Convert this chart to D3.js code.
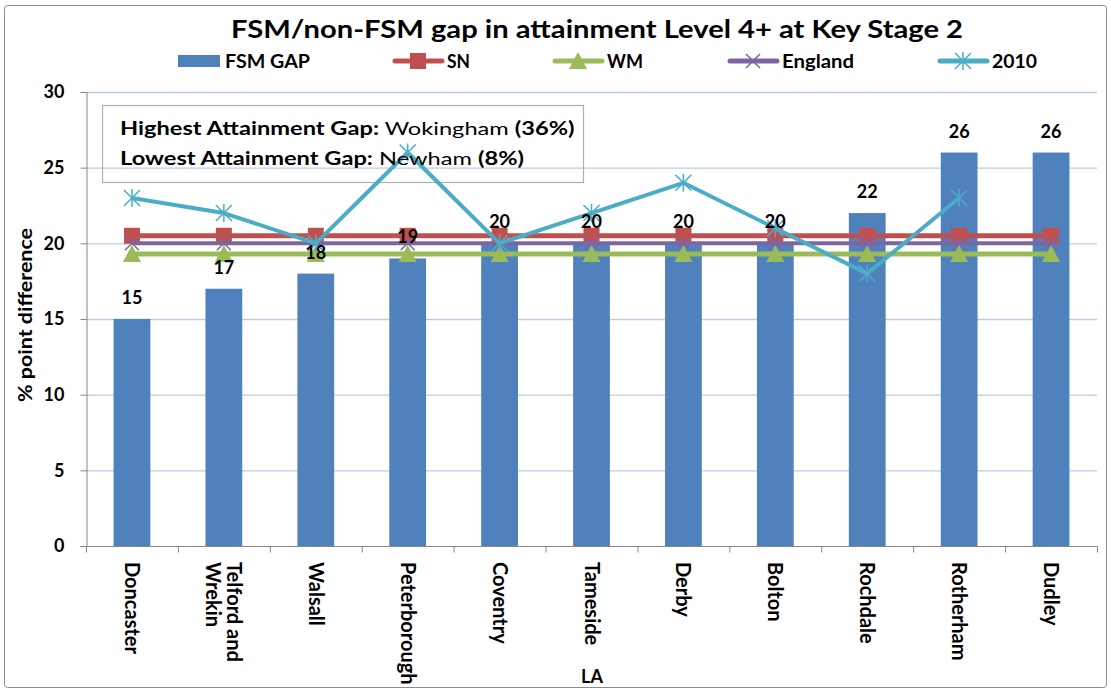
<!DOCTYPE html>
<html>
<head>
<meta charset="utf-8">
<script src="https://cdn.jsdelivr.net/npm/d3@7"></script>
<style>
body{margin:0;background:#fff;}
svg text{font-family:Lato,"Open Sans",sans-serif;}
</style>
</head>
<body>
<div id="chart"></div>
<script>
var categories=["Doncaster","Telford and Wrekin","Walsall","Peterborough","Coventry","Tameside","Derby","Bolton","Rochdale","Rotherham","Dudley"];
var fsmGap=[15,17,18,19,20,20,20,20,22,26,26];
var sn=[20.5,20.5,20.5,20.5,20.5,20.5,20.5,20.5,20.5,20.5,20.5];
var wm=[19.3,19.3,19.3,19.3,19.3,19.3,19.3,19.3,19.3,19.3,19.3];
var england=[20,20,20,20,20,20,20,20,20,20,20];
var y2010=[23,22,20,26,20,22,24,21,18,23,null];
var yTicks=[0,5,10,15,20,25,30];

var W=1111,H=691;
var m={left:86,right:1097,top:92,bottom:546};

var svg=d3.select('#chart').append('svg')
    .attr('width',W).attr('height',H);

// stretch a text to a given width (source picture is wider than natural fonts)
function fit(sel,w){
    sel.attr('textLength',w).attr('lengthAdjust','spacingAndGlyphs');
    return sel;
}

svg.append('rect')
    .attr('x',4.5).attr('y',5.5).attr('width',1102).attr('height',682)
    .attr('rx',3)
    .attr('fill','#fff').attr('stroke','#8c8c8c').attr('stroke-width',1);

var xb=d3.scaleBand().domain(categories).range([m.left,m.right]);
var x=d3.scaleBand().domain(categories).range([m.left,m.right]).paddingInner(0.6).paddingOuter(0.3);
var y=d3.scaleLinear().domain([0,30]).range([m.bottom,m.top]);

// gridlines
svg.append('g').selectAll('line').data(yTicks.slice(1)).enter().append('line')
    .attr('x1',m.left).attr('x2',m.right)
    .attr('y1',function(d){return y(d)+0.5;}).attr('y2',function(d){return y(d)+0.5;})
    .attr('stroke','#b9cde5').attr('stroke-width',1.3);

// annotation box (no fill, gridline shows through)
svg.append('rect').attr('x',102.5).attr('y',105.5).attr('width',481).attr('height',77)
    .attr('fill','none').attr('stroke','#b0b0b0').attr('stroke-width',1.2);

// y axis
var yAxis=svg.append('g').attr('transform','translate('+(m.left+0.5)+',0)')
    .call(d3.axisLeft(y).tickValues(yTicks).tickSize(6).tickPadding(16));
yAxis.select('.domain').attr('stroke','#868686');
yAxis.selectAll('.tick line').attr('stroke','#868686');
yAxis.selectAll('text').attr('font-size',18).attr('font-weight','bold').attr('fill','#000')
    .style('font-family','Lato,sans-serif');

// x axis
var xAxis=svg.append('g').attr('transform','translate(0,'+(m.bottom+0.5)+')');
xAxis.append('line').attr('x1',m.left).attr('x2',m.right+0.5).attr('stroke','#868686');
xAxis.selectAll('.tk').data(d3.range(categories.length+1)).enter().append('line')
    .attr('x1',function(i){return m.left+i*xb.step()+0.5;})
    .attr('x2',function(i){return m.left+i*xb.step()+0.5;})
    .attr('y1',0).attr('y2',6).attr('stroke','#868686');

// bars
svg.append('g').selectAll('rect').data(fsmGap).enter().append('rect')
    .attr('x',function(d,i){return x(categories[i]);})
    .attr('width',x.bandwidth())
    .attr('y',function(d){return y(d);})
    .attr('height',function(d){return y(0)-y(d);})
    .attr('fill','#4f81bd');

function cx(i){return xb(categories[i])+xb.bandwidth()/2;}

var line=d3.line().defined(function(d){return d!=null;})
    .x(function(d,i){return cx(i);}).y(function(d){return y(d);});

function square(g,px,py,c){
    g.append('rect').attr('x',px-8).attr('y',py-8).attr('width',16).attr('height',16).attr('fill',c);
}
function triangle(g,px,py,c){
    g.append('path').attr('d','M'+px+','+(py-9)+' L'+(px+9)+','+(py+8)+' L'+(px-9)+','+(py+8)+' Z').attr('fill',c);
}
function cross(g,px,py,c){
    g.append('path').attr('d','M'+(px-7)+','+(py-7)+' L'+(px+7)+','+(py+7)+' M'+(px+7)+','+(py-7)+' L'+(px-7)+','+(py+7))
        .attr('stroke',c).attr('stroke-width',1.5);
}
function star(g,px,py,c){
    g.append('path').attr('d','M'+(px-8)+','+(py-8)+' L'+(px+8)+','+(py+8)+' M'+(px+8)+','+(py-8)+' L'+(px-8)+','+(py+8)+' M'+px+','+(py-9)+' L'+px+','+(py+9))
        .attr('stroke',c).attr('stroke-width',1.5);
}

function drawSeries(vals,color,width,marker){
    svg.append('path').datum(vals).attr('d',line)
        .attr('fill','none').attr('stroke',color).attr('stroke-width',width)
        .attr('stroke-linejoin','round');
    var g=svg.append('g');
    vals.forEach(function(v,i){
        if(v==null) return;
        marker(g,cx(i),y(v),color);
    });
}

drawSeries(sn,'#c0504d',5,square);
drawSeries(wm,'#9bbb59',5,triangle);
drawSeries(england,'#8064a2',4,cross);
drawSeries(y2010,'#4bacc6',4,star);

// data labels
svg.append('g').selectAll('text').data(fsmGap).enter().append('text')
    .attr('x',function(d,i){return cx(i);})
    .attr('y',function(d){return y(d)-15;})
    .attr('text-anchor','middle')
    .attr('font-size',18).attr('font-weight','bold')
    .text(function(d){return d;});

// x labels, rotated
var xl=svg.append('g');
categories.forEach(function(c,i){
    var lines=c=="Telford and Wrekin"?["Telford and","Wrekin"]:[c];
    var t=xl.append('text')
        .attr('transform','translate('+cx(i)+','+(m.bottom+16)+') rotate(90)')
        .attr('font-size',20).attr('font-weight','bold');
    lines.forEach(function(s,k){
        t.append('tspan').attr('x',0)
            .attr('y',(k-(lines.length-1)/2)*21+7)
            .text(s);
    });
});

// axis titles
svg.append('text').attr('x',592).attr('y',683).attr('text-anchor','middle')
    .attr('font-size',18).attr('font-weight','bold').text('LA');
fit(svg.append('text').attr('transform','translate(32,315) rotate(-90)').attr('text-anchor','middle')
    .attr('font-size',18).attr('font-weight','bold').text('% point difference'),174);

// title
fit(svg.append('text').attr('x',231).attr('y',38)
    .attr('font-size',24).attr('font-weight','bold').text('FSM/non-FSM gap in attainment Level 4+ at Key Stage 2'),732);

// legend
var legendItems=[
    {name:'FSM GAP',color:'#4f81bd',x:178,tw:85,type:'bar'},
    {name:'SN',color:'#c0504d',x:395,tw:23,type:'line',mk:square,w:5},
    {name:'WM',color:'#9bbb59',x:555,tw:36,type:'line',mk:triangle,w:5},
    {name:'England',color:'#8064a2',x:730,tw:72,type:'line',mk:cross,w:5},
    {name:'2010',color:'#4bacc6',x:940,tw:45,type:'line',mk:star,w:5}
];
var lg=svg.append('g');
legendItems.forEach(function(it){
    var tx;
    if(it.type=='bar'){
        lg.append('rect').attr('x',it.x).attr('y',55).attr('width',42).attr('height',12).attr('fill',it.color);
        tx=it.x+47;
    } else {
        lg.append('line').attr('x1',it.x).attr('x2',it.x+47).attr('y1',61).attr('y2',61)
            .attr('stroke',it.color).attr('stroke-width',it.w).attr('stroke-linecap','round');
        it.mk(lg,it.x+23,61,it.color);
        tx=it.x+52;
    }
    fit(lg.append('text').attr('x',tx).attr('y',68).attr('font-size',19).attr('font-weight','bold').text(it.name),it.tw);
});

// annotation text
var ann=[
    [['Highest Attainment Gap:','bold'],[' Wokingham ','normal'],['(36%)','bold']],
    [['Lowest Attainment Gap:','bold'],[' Newham ','normal'],['(8%)','bold']]
];
var sx=1;
ann.forEach(function(row,k){
    var t=svg.append('text').attr('font-size',18).attr('x',0).attr('y',0);
    row.forEach(function(p){
        t.append('tspan').attr('font-weight',p[1]).text(p[0]);
    });
    if(k==0) sx=455/t.node().getComputedTextLength();
    t.attr('transform','translate(120,'+(135+k*30)+') scale('+sx+',1)');
});
</script>
</body>
</html>
